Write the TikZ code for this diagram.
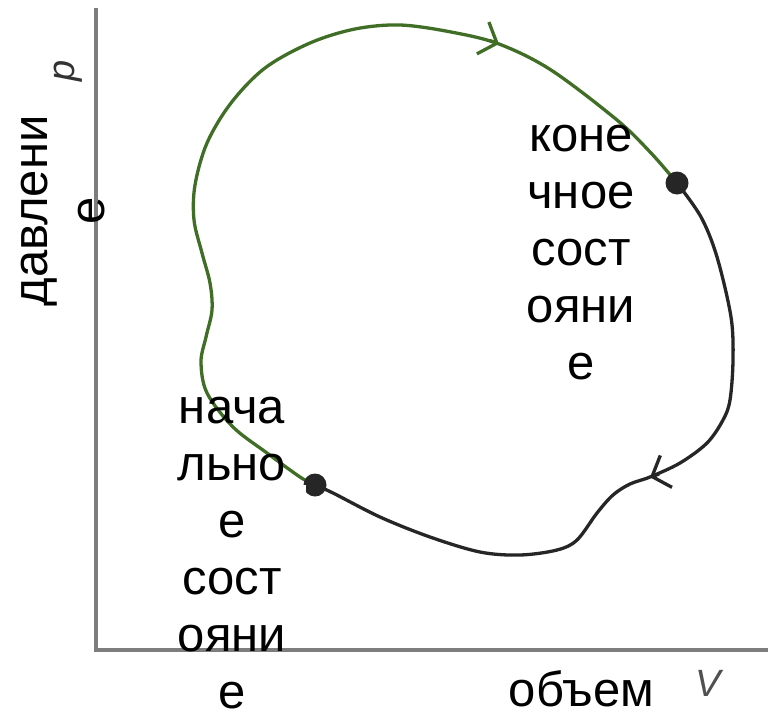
\documentclass[tikz,border=0pt]{standalone}
\usepackage{fontspec}
\setmainfont{Liberation Sans}
\usetikzlibrary{arrows.meta}
\definecolor{curvegreen}{RGB}{65,110,38}
\definecolor{axisgray}{RGB}{125,125,125}
\definecolor{labelgray}{RGB}{80,80,80}
\tikzset{
  axisline/.style={draw=axisgray, line width=3.5pt},
  pathgreen/.style={draw=curvegreen, line width=3.3pt, line cap=round, line join=round},
  pathblack/.style={draw=black!85, line width=3.3pt, line cap=round, line join=round},
  barbtip/.style={-{Straight Barb[length=15pt,width=34pt]}},
  statedot/.style={circle, fill=black!85, minimum size=23pt, inner sep=0pt},
  bigtext/.style={font=\fontsize{49}{57}\selectfont, align=center, inner sep=0pt, text=black},
  axisletter/.style={font=\fontsize{38}{38}\selectfont\itshape, inner sep=0pt}
}
\begin{document}
\begin{tikzpicture}[x=1pt,y=-1pt]
\useasboundingbox (0,0) rectangle (768,715);
\fill[white] (0,0) rectangle (768,715);
% axes
\coordinate (o) at (96,650);
\coordinate (ytop) at (96,8);
\coordinate (xend) at (768,650);
\draw[axisline] (ytop) -- (o) -- (xend);
% state points
\coordinate (startpt) at (315,485);
\coordinate (endpt) at (677,183);
% green process (initial -> final, upper branch)
\draw[pathgreen] plot[smooth, tension=0.55] coordinates {
 (315,485) (300,477) (267,453) (233,427) (207,393) (201,362) (206,337)
 (212,310) (210,283) (202,253) (194,220) (195,185) (207,143) (231,103)
 (265,68) (310,43) (355,29) (400,25) (451,32) (499,44) (551,70) (617,120)
 (651,153) (677,183)};
% black process (final -> initial, lower branch)
\draw[pathblack] plot[smooth, tension=0.55] coordinates {
 (677,183) (701,217) (717,257) (731,317) (733,360) (730,400) (723,420)
 (707,443) (680,463) (650,477) (630,484) (613,495) (597,513) (577,540)
 (557,550) (520,555) (480,552) (430,537) (380,517) (333,493) (315,485)};
% arrowheads
\coordinate (ga1) at (489.7,40.5);
\coordinate (ga2) at (499,44);
\draw[pathgreen, line cap=butt, barbtip] (ga1) -- (ga2);
\coordinate (ba1) at (659,474);
\coordinate (ba2) at (650,477.3);
\draw[pathblack, line cap=butt, barbtip] (ba1) -- (ba2);
% dots
\node[statedot] (start) at (startpt) {};
\node[statedot] (end) at (endpt) {};
% white patch of the label box
\fill[white] (200,485) rectangle (306,570);
% axis letters
\node[axisletter, text=black!80, rotate=90] (plabel) at (68,71) {p};
\node[axisletter, text=labelgray] (vlabel) at (708,683) {V};
% texts
\node[bigtext, rotate=90] (pressure) at (63,211) {давлени\\е};
\node[bigtext] (final) at (581,253) {коне\\чное\\сост\\ояни\\е};
\node[bigtext] (initial) at (232,553) {нача\\льно\\е\\сост\\ояни\\е};
\node[bigtext, fill=white, minimum width=183pt, minimum height=52pt] (volume) at (581.5,689) {объем};
\end{tikzpicture}
\end{document}
